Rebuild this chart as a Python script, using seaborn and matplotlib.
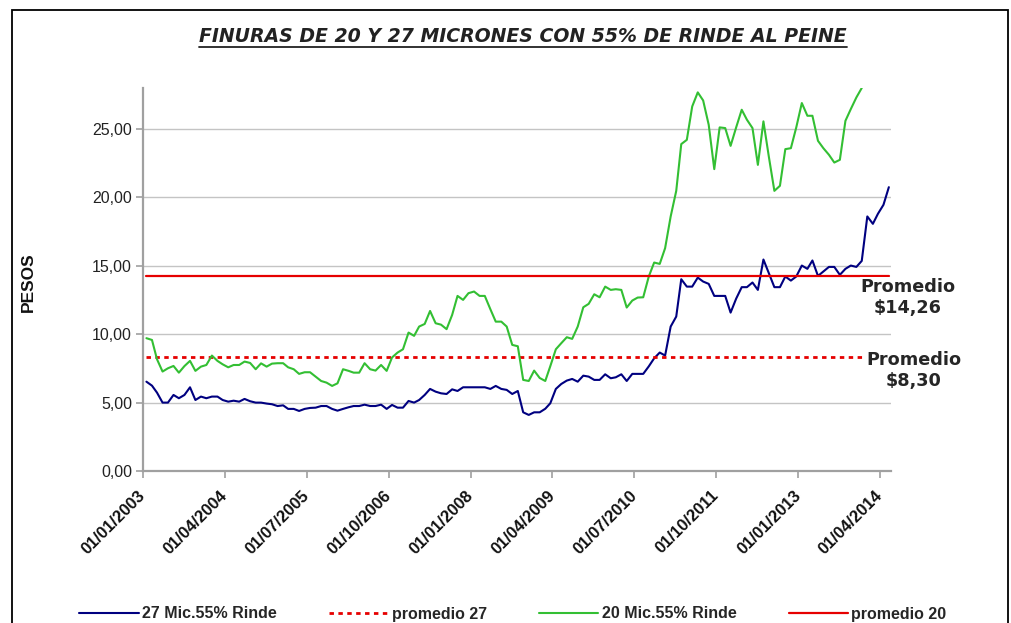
import numpy as np
import pandas as pd
import matplotlib
matplotlib.use("Agg")
import matplotlib.pyplot as plt
import matplotlib.dates as mdates
from matplotlib.ticker import FuncFormatter, MultipleLocator
from matplotlib.patches import Rectangle
from matplotlib.lines import Line2D
import seaborn as sns

# --- datos mensuales (ene 2003 - may 2014) ---
fechas = pd.date_range("2003-01-01", periods=137, freq="MS") + pd.Timedelta(days=19)

mic27 = [6.53, 6.24, 5.73, 5.00, 5.00, 5.56, 5.32, 5.56, 6.12, 5.19,
         5.44, 5.32, 5.44, 5.44, 5.19, 5.07, 5.14, 5.07, 5.27, 5.10,
         5.00, 5.00, 4.93, 4.88, 4.75, 4.80, 4.54, 4.54, 4.39, 4.54,
         4.61, 4.63, 4.75, 4.75, 4.54, 4.41, 4.54, 4.66, 4.75, 4.75,
         4.85, 4.75, 4.75, 4.85, 4.54, 4.83, 4.63, 4.63, 5.12, 5.00,
         5.19, 5.56, 6.00, 5.80, 5.68, 5.63, 5.97, 5.85, 6.12, 6.12,
         6.12, 6.12, 6.12, 6.00, 6.22, 6.00, 5.93, 5.63, 5.85, 4.29,
         4.10, 4.29, 4.29, 4.55, 4.95, 6.00, 6.36, 6.61, 6.73, 6.53,
         6.97, 6.90, 6.66, 6.66, 7.07, 6.78, 6.85, 7.07, 6.58, 7.10,
         7.10, 7.10, 7.65, 8.24, 8.66, 8.44, 10.56, 11.29, 14.02, 13.48,
         13.48, 14.14, 13.85, 13.68, 12.80, 12.80, 12.80, 11.58, 12.60, 13.44,
         13.44, 13.78, 13.24, 15.46, 14.46, 13.44, 13.44, 14.22, 13.92, 14.22,
         15.02, 14.78, 15.39, 14.26, 14.58, 14.92, 14.92, 14.34, 14.78, 15.02,
         14.92, 15.36, 18.61, 18.07, 18.80, 19.46, 20.75]

mic20 = [9.71, 9.58, 8.17, 7.27, 7.51, 7.68, 7.19, 7.67, 8.05, 7.32,
         7.63, 7.75, 8.44, 8.05, 7.80, 7.58, 7.75, 7.75, 8.00, 7.90,
         7.44, 7.87, 7.63, 7.85, 7.88, 7.88, 7.58, 7.44, 7.10, 7.22,
         7.22, 6.90, 6.58, 6.46, 6.22, 6.41, 7.44, 7.32, 7.19, 7.19,
         7.88, 7.44, 7.34, 7.75, 7.32, 8.30, 8.66, 8.90, 10.12, 9.88,
         10.56, 10.75, 11.70, 10.80, 10.70, 10.37, 11.41, 12.80, 12.51, 13.00,
         13.12, 12.80, 12.80, 11.83, 10.92, 10.92, 10.56, 9.22, 9.12, 6.66,
         6.58, 7.34, 6.80, 6.58, 7.66, 8.90, 9.34, 9.78, 9.66, 10.56,
         11.97, 12.22, 12.92, 12.70, 13.48, 13.24, 13.29, 13.24, 11.95, 12.46,
         12.68, 12.70, 14.22, 15.24, 15.14, 16.29, 18.61, 20.48, 23.90, 24.21,
         26.65, 27.68, 27.09, 25.31, 22.07, 25.12, 25.07, 23.77, 25.12, 26.41,
         25.68, 25.07, 22.38, 25.56, 22.99, 20.48, 20.85, 23.53, 23.60, 25.12,
         26.90, 25.97, 25.97, 24.14, 23.60, 23.12, 22.55, 22.75, 25.60, 26.46,
         27.31, 28.00]

prom27 = 8.30
prom20 = 14.26

titulo = "FINURAS DE 20 Y 27 MICRONES CON 55% DE RINDE AL PEINE"
nombres = ["27 Mic.55% Rinde", "promedio 27", "20 Mic.55% Rinde", "promedio 20"]

# --- estilo ---
sns.set_theme(style="white")
plt.rcParams["font.family"] = ["Liberation Sans", "DejaVu Sans"]

azul = "#000080"
verde = "#33bf33"
rojo = "#e60000"

fig = plt.figure(figsize=(10.12, 6.23), dpi=100)
ax = fig.add_axes([143 / 1012, 1 - 471 / 623, (891 - 143) / 1012, (471 - 88) / 623])

# series
sns.lineplot(x=fechas, y=mic27, ax=ax, color=azul, lw=1.5, label=nombres[0])
sns.lineplot(x=fechas, y=[prom27] * len(fechas), ax=ax, color=rojo, lw=2.0,
             label=nombres[1], linestyle=(0, (1.6, 1.6)))
sns.lineplot(x=fechas[:len(mic20)], y=mic20, ax=ax, color=verde, lw=1.5, label=nombres[2])
sns.lineplot(x=fechas, y=[prom20] * len(fechas), ax=ax, color=rojo, lw=1.6, label=nombres[3])

# ejes
ax.set_ylim(0, 28)
ax.set_xlim(pd.Timestamp("2003-01-01"), pd.Timestamp("2014-06-01"))
ax.yaxis.set_major_locator(MultipleLocator(5))
ax.yaxis.set_major_formatter(FuncFormatter(lambda v, p: f"{v:.2f}".replace(".", ",")))
ticks_x = pd.date_range("2003-01-01", "2014-04-01", freq="15MS")
ax.set_xticks(ticks_x)
ax.xaxis.set_major_formatter(mdates.DateFormatter("%d/%m/%Y"))

ax.yaxis.grid(True, color="#c4c4c4", lw=1.0)
ax.xaxis.grid(False)
ax.set_axisbelow(True)
for s in ["top", "right"]:
    ax.spines[s].set_visible(False)
for s in ["left", "bottom"]:
    ax.spines[s].set_color("#a0a0a0")
    ax.spines[s].set_linewidth(1.6)

ax.tick_params(axis="both", which="major", direction="out", length=5, width=1.2,
               color="#a0a0a0", bottom=True, left=True)
ax.tick_params(axis="y", labelsize=11.5, labelcolor="#222222", pad=3)
ax.tick_params(axis="x", labelsize=12, labelcolor="#111111", pad=11)
for lbl in ax.get_xticklabels():
    lbl.set_rotation(45)
    lbl.set_ha("right")
    lbl.set_va("center")
    lbl.set_rotation_mode("anchor")
    lbl.set_fontweight("bold")

ax.set_xlabel("")
ax.set_ylabel("")
fig.text(28 / 1012, 1 - 282 / 623, "PESOS", rotation=90, ha="center", va="center",
         fontsize=12.5, fontweight="bold", color="#111111")

# textos de promedio
trans = ax.get_yaxis_transform()
ax.text((908 - 143) / 748, (471 - 297.5) / 13.67, "Promedio\n$" + f"{prom20:.2f}".replace(".", ","),
        transform=trans, ha="center", va="center", fontsize=12.7, fontweight="bold",
        family="DejaVu Sans", linespacing=1.25, clip_on=False, zorder=5,
        bbox=dict(facecolor="white", edgecolor="none", pad=0.5))
ax.text((914 - 143) / 748, (471 - 370.5) / 13.67, "Promedio\n$" + f"{prom27:.2f}".replace(".", ","),
        transform=trans, ha="center", va="center", fontsize=12.7, fontweight="bold",
        family="DejaVu Sans", linespacing=1.25, clip_on=False, zorder=5,
        bbox=dict(facecolor="white", edgecolor="none", pad=0.5))

# titulo subrayado, ajustado al ancho del original
t = fig.text(523 / 1012, 1 - 37 / 623, titulo, ha="center", va="center", fontsize=13,
             fontweight="bold", style="italic", family="DejaVu Sans", color="#222222")
fig.canvas.draw()
w = t.get_window_extent().width
t.set_fontsize(13 * 644 / w)
fig.canvas.draw()
bb = t.get_window_extent()
fig.add_artist(Line2D([bb.x0 / 1012, bb.x1 / 1012], [1 - 47 / 623, 1 - 47 / 623],
                      transform=fig.transFigure, color="#222222", lw=1.3))

# leyenda
ax.get_legend().remove()
h, l = ax.get_legend_handles_labels()
fig.legend(h, l, loc="center", bbox_to_anchor=(513 / 1012, 1 - 614 / 623), ncol=4,
           frameon=False, prop={"family": "Liberation Sans", "weight": "bold", "size": 11.5},
           handlelength=3.7, handletextpad=0.2, columnspacing=3.3)

# marco exterior
fig.add_artist(Rectangle((12 / 1012, -0.05), (1008 - 12) / 1012, 1.05 - 10 / 623,
                         transform=fig.transFigure, fill=False, edgecolor="black", lw=1.3))

fig.savefig("out.png", dpi=100)
